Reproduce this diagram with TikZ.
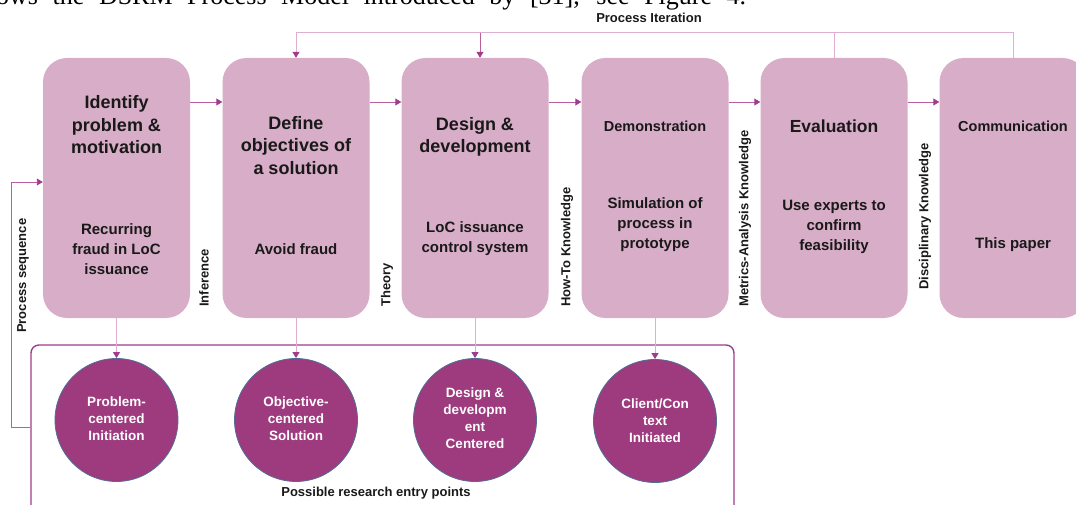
\documentclass[tikz,border=0pt]{standalone}
\usepackage{fontspec}
\setmainfont{Liberation Sans}
\newfontfamily\paperserif{Liberation Serif}
\usetikzlibrary{arrows.meta}
\definecolor{boxfill}{RGB}{216,173,200}
\definecolor{circfill}{RGB}{158,58,126}
\definecolor{circline}{RGB}{80,110,150}
\definecolor{darkarr}{RGB}{160,60,140}
\definecolor{arrline}{RGB}{185,95,160}
\definecolor{lightln}{RGB}{222,175,208}
\definecolor{txt}{RGB}{25,25,25}
\begin{document}
\begin{tikzpicture}[x=1pt,y=-1pt,
  stepbox/.style={draw=none, fill=boxfill, rounded corners=24pt, minimum width=147pt, minimum height=260pt, inner sep=0pt},
  title/.style={font=\bfseries\fontsize{18}{22.5}\selectfont, align=center, text=txt, inner sep=0pt},
  smalltitle/.style={font=\bfseries\fontsize{14.5}{18}\selectfont, align=center, text=txt, inner sep=0pt},
  sub/.style={font=\bfseries\fontsize{15}{20}\selectfont, align=center, text=txt, inner sep=0pt},
  circ/.style={circle, fill=circfill, draw=circline, line width=0.8pt, minimum size=123pt, inner sep=0pt},
  ctext/.style={font=\bfseries\fontsize{13.5}{17}\selectfont, align=center, text=white, inner sep=0pt},
  vlab/.style={rotate=90, anchor=west, font=\bfseries\fontsize{13}{15}\selectfont, text=txt, inner sep=0pt},
  plab/.style={font=\bfseries\fontsize{13}{15}\selectfont, text=txt, inner sep=0pt},
  arr/.style={draw=arrline, line width=0.9pt, -{Triangle[length=6pt,width=7pt,color=darkarr]}},
  larr/.style={draw=lightln, line width=1pt, -{Triangle[length=6pt,width=7pt,color=darkarr]}},
  lln/.style={draw=lightln, line width=1pt},
  frame/.style={draw=darkarr, line width=1.4pt, rounded corners=8pt, minimum width=703pt, minimum height=215pt, inner sep=0pt}
]
\useasboundingbox (0,0) rectangle (1076,505);
\clip (0,0) rectangle (1076,505);

% cut-off paper text line
\node[anchor=base west, inner sep=0pt, font=\paperserif\fontsize{26}{30}\selectfont] (para) at (-4,4.5)
  {\makebox[750pt][s]{ows the DSRM Process Model introduced by [31], see Figure 4.}};

% step boxes
\node[stepbox] (b1) at (116.5,188) {};
\node[stepbox] (b2) at (296,188) {};
\node[stepbox] (b3) at (475,188) {};
\node[stepbox] (b4) at (655,188) {};
\node[stepbox] (b5) at (834,188) {};
\node[stepbox] (b6) at (1013,188) {};

% titles
\node[title] (t1) at (116.5,125) {Identify\\problem \&\\motivation};
\node[title] (t2) at (296,145.5) {Define\\objectives of\\a solution};
\node[title] (t3) at (475,137) {Design \&\\development};
\node[smalltitle] (t4) at (655,126) {Demonstration};
\node[title, font=\bfseries\fontsize{17.5}{22}\selectfont] (t5) at (834,126.5) {Evaluation};
\node[smalltitle] (t6) at (1013,126) {Communication};

% subtitles
\node[sub] (s1) at (116.5,249.5) {Recurring\\fraud in LoC\\issuance};
\node[sub] (s2) at (296,249.5) {Avoid fraud};
\node[sub] (s3) at (475,238.5) {LoC issuance\\control system};
\node[sub] (s4) at (655,224.5) {Simulation of\\process in\\prototype};
\node[sub] (s5) at (834,226.5) {Use experts to\\confirm\\feasibility};
\node[sub] (s6) at (1013,244.5) {This paper};

% horizontal arrows
\coordinate (hrow) at (0,102);
\draw[arr] (b1.east |- hrow) -- (b2.west |- hrow);
\draw[arr] (b2.east |- hrow) -- (b3.west |- hrow);
\draw[arr] (b3.east |- hrow) -- (b4.west |- hrow);
\draw[arr] (b4.east |- hrow) -- (b5.west |- hrow);
\draw[arr] (b5.east |- hrow) -- (b6.west |- hrow);

% vertical labels between boxes
\node[vlab] (l1) at (204,307) {Inference};
\node[vlab] (l2) at (387,307) {Theory};
\node[vlab] (l3) at (567,307) {How-To Knowledge};
\node[vlab] (l4) at (745,307) {Metrics-Analysis Knowledge};
\node[vlab] (l5) at (925,290) {Disciplinary Knowledge};
\node[vlab] (l6) at (23,333) {Process sequence};

% process iteration
\node[plab] (pi) at (649,18) {Process Iteration};
\coordinate (itL) at (296,33);
\coordinate (itR) at (1013,33);
\coordinate (it3) at (480,33);
\draw[lln] (b5.north) -- (b5.north |- itL);
\draw[larr] (b6.north) -- (itR) -- (itL) -- (b2.north);
\draw[arr] (it3) -- (it3 |- b3.north);

% frame of entry points
\node[frame] (frm) at (382.5,452.5) {};
\node[plab] (pe) at (376,493) {Possible research entry points};

% circles
\node[circ] (c1) at (116.5,420) {};
\node[circ] (c2) at (296,420) {};
\node[circ] (c3) at (475,420) {};
\node[circ] (c4) at (655,421) {};
\node[ctext] (ct1) at (116.5,418.5) {Problem-\\centered\\Initiation};
\node[ctext] (ct2) at (296,418.5) {Objective-\\centered\\Solution};
\node[ctext] (ct3) at (475,418) {Design \&\\developm\\ent\\Centered};
\node[ctext] (ct4) at (655,420.5) {Client/Con\\text\\Initiated};

\draw[larr] (b1.south) -- (c1.north);
\draw[larr] (b2.south) -- (c2.north);
\draw[larr] (b3.south) -- (c3.north);
\draw[larr] (b4.south) -- (c4.north);

% process sequence loop
\coordinate (psB) at (11,427);
\coordinate (psT) at (11,182);
\draw[arr] (frm.west |- psB) -- (psB) -- (psT) -- (b1.west |- psT);
\end{tikzpicture}
\end{document}
